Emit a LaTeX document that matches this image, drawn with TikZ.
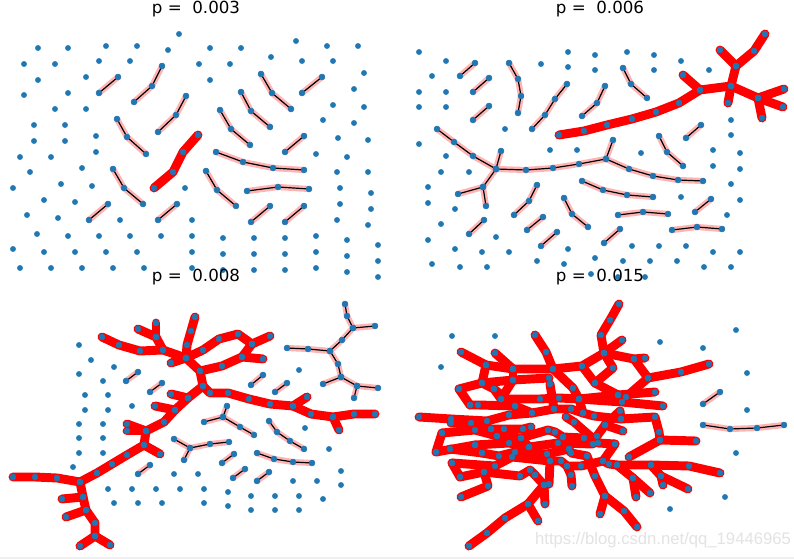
\documentclass[tikz,border=0pt]{standalone}
\usepackage{fontspec}
\setmainfont{DejaVu Sans}
\newfontfamily\wmfont{Liberation Sans}
\definecolor{mplblue}{HTML}{1F77B4}
\definecolor{pinkc}{RGB}{255,180,180}
\tikzset{
  redline/.style={draw=red, line width=6.7pt, line cap=round, line join=round},
  pinkline/.style={draw=pinkc, line width=4.6pt, line cap=round, line join=round},
  blkline/.style={draw=black, line width=0.9pt, line cap=round, line join=round},
  dotmark/.style={color=mplblue, only marks, mark=*, mark size=2.2pt},
  ttl/.style={font=\fontsize{12.5}{15}\selectfont, text=black, inner sep=0pt}
}
% ---------- red (spanning cluster) paths ----------
\def\redlist{%
{(154,188) (173,172) (183,152) (198,135)},%
{(559,135) (584,131) (607,125) (632,119) (656,112) (679,103) (700,90) (731,86) (758,98) (784,89)},%
{(700,90) (683,75)},{(731,86) (736,66) (720,50)},{(736,66) (754,51) (765,34)},%
{(731,86) (728,103)},{(758,98) (783,107)},{(758,98) (762,118)},%
{(102,337) (119,345) (140,351) (163,350) (186,358)},%
{(163,350) (156,337) (138,329)},{(156,337) (156,323)},%
{(186,358) (187,345) (191,331) (195,317)},%
{(171,363) (186,358) (200,371) (203,386) (210,393) (228,393) (249,399) (270,404) (293,406) (307,397)},%
{(186,358) (203,350) (219,339) (238,334) (252,344) (270,336)},%
{(252,344) (242,357) (263,359)},{(200,371) (222,366) (242,357)},%
{(293,406) (311,414) (333,417) (354,414) (375,414)},{(333,417) (339,430)},%
{(203,386) (188,398) (171,394)},{(188,398) (175,410) (155,406)},%
{(175,410) (164,422) (146,431) (144,445) (127,455) (112,464) (97,473) (80,482) (57,478) (35,477) (13,477)},%
{(146,431) (127,424)},{(146,431) (127,431)},{(144,445) (160,454)},%
{(80,482) (83,497) (86,510) (95,523) (95,536)},{(83,497) (62,499)},{(86,510) (66,517)},%
{(95,536) (80,546)},{(95,536) (110,545)},%
{(619,304) (610,320) (601,335) (604,353) (622,340)},%
{(604,353) (634,359) (645,358)},{(634,359) (648,378) (681,372) (709,364)},%
{(604,353) (582,366) (553,369) (513,369) (486,365) (461,352)},{(495,353) (513,369)},%
{(535,335) (546,352) (553,369) (573,388) (579,399) (583,413)},%
{(582,366) (595,383) (618,395)},{(604,353) (613,368) (595,383)},%
{(459,389) (482,383) (513,380) (549,378)},{(513,369) (513,380)},%
{(482,383) (494,389) (501,399) (540,399) (559,398) (579,399) (618,395) (655,392)},%
{(579,399) (622,402) (663,406)},{(618,395) (626,397) (648,378)},%
{(470,405) (478,405) (515,406) (532,413) (554,409)},{(459,389) (470,405)},%
{(419,417) (451,419) (487,421) (509,415) (532,413)},%
{(451,423) (471,423) (491,429) (504,429) (523,429) (531,427)},%
{(442,433) (475,430) (497,436) (521,438) (548,430) (555,432) (563,437) (584,438)},%
{(554,409) (571,409) (583,413) (594,416) (621,419) (655,417) (659,432) (660,440) (696,441)},%
{(566,417) (574,422) (598,443) (615,444)},{(605,425) (623,431)},%
{(597,436) (605,425) (620,411) (621,419)},%
{(436,452) (475,445) (509,443) (529,447) (558,443) (593,444)},%
{(450,449) (482,453) (499,456) (515,452) (547,454) (569,449) (571,453) (587,456)},%
{(452,463) (495,466) (512,457) (550,461) (561,461) (567,466) (581,466) (603,461) (609,464) (617,465) (651,465) (689,466) (720,473)},%
{(460,477) (484,472) (520,476) (530,470) (535,475)},{(461,497) (488,486) (484,472)},%
{(469,546) (487,533) (505,518) (528,504) (544,485) (549,484) (550,461)},%
{(528,504) (538,521)},{(545,504) (544,485)},{(572,486) (571,475) (567,466)},%
{(600,514) (605,496) (595,476) (587,456)},{(605,496) (624,511) (637,527)},%
{(636,497) (633,478) (617,465)},{(650,493) (633,478)},{(688,489) (661,476) (651,465)},%
{(663,485) (661,476)},{(629,457) (660,440)},%
{(486,365) (482,383)},{(513,380) (501,399)},{(550,384) (554,409)},{(494,389) (515,406)},%
{(436,452) (442,433)},{(475,445) (482,453)},{(460,477) (452,463)},{(535,475) (544,485)},%
{(521,438) (529,447)},{(491,429) (497,436)},{(563,437) (569,449)},{(603,461) (615,444)}%
}
% ---------- pink (finite cluster) paths ----------
\def\pinklist{%
{(99,93) (118,77)},{(134,102) (152,86) (162,66)},{(158,132) (176,115) (186,96)},%
{(117,119) (127,137) (146,154)},{(113,169) (124,188) (143,204)},{(89,220) (108,204)},%
{(158,220) (177,204)},{(261,74) (272,93) (291,109)},{(241,92) (251,111) (270,127)},%
{(220,110) (231,129) (250,145)},{(302,93) (322,77)},{(285,152) (304,136)},%
{(216,152) (243,162) (273,168) (304,170)},{(206,171) (217,190) (236,206)},%
{(247,191) (278,187) (309,189)},{(251,222) (270,206)},{(285,222) (304,206)},%
{(460,76) (475,63)},{(473,92) (489,78)},{(473,120) (489,106)},%
{(509,63) (518,79) (521,96) (518,113)},{(532,129) (545,115) (555,99) (567,84)},%
{(582,116) (597,103) (605,86)},{(623,68) (631,84) (647,98)},{(686,138) (701,125)},%
{(437,129) (454,142) (473,156) (496,169) (526,170) (553,168) (579,164) (606,159) (629,169) (653,176) (678,180) (703,181)},%
{(496,169) (501,151)},{(606,159) (613,140)},{(496,169) (483,187) (458,194)},{(483,187) (486,206)},%
{(582,181) (603,190) (627,195) (653,197)},{(514,215) (529,201) (537,185)},{(469,234) (484,220)},%
{(527,230) (543,217)},{(541,246) (557,232)},{(564,198) (572,214) (588,227)},{(604,243) (620,229)},%
{(618,215) (643,212) (668,214)},{(672,230) (697,227) (722,229)},{(695,212) (711,199)},%
{(659,136) (667,152) (683,166)},%
{(126,381) (138,372)},{(150,392) (162,383)},{(251,385) (263,375)},{(275,392) (287,383)},%
{(287,348) (308,349) (330,351) (342,340) (353,328) (347,316) (345,304)},{(353,328) (375,326)},%
{(330,351) (338,364) (341,377) (323,384)},{(341,377) (357,386) (378,388)},{(357,386) (354,398)},%
{(227,406) (223,417) (204,422)},{(223,417) (240,427) (254,435)},%
{(174,439) (190,448) (210,444) (229,442)},{(190,448) (184,460)},{(222,463) (234,454)},%
{(233,478) (245,469)},{(257,481) (269,472)},{(138,474) (150,465)},%
{(269,421) (277,432) (290,441) (304,449)},{(257,453) (274,459) (293,462) (312,463)},%
{(703,404) (720,392)},{(703,425) (730,429) (757,428) (784,425)}%
}
% ---------- isolated nodes ----------
\def\dotlist{%
38/48,68/48,106/46,137/46,179/34,168/50,24/64,55/64,99/61,130/61,38/80,86/77,24/95,68/93,55/109,86/109,%
34/125,65/125,96/136,34/141,65/141,210/48,241/48,296/41,327/46,358/46,199/64,230/64,271/57,302/61,333/61,%
210/80,364/73,354/89,333/105,364/107,323/120,354/123,338/138,368/140,%
20/157,51/157,96/152,30/172,82/168,13/188,61/184,92/186,44/200,75/202,27/215,58/218,120/220,192/220,185/188,%
37/234,68/236,99/236,130/236,161/236,192/236,13/249,44/252,75/252,106/252,137/252,192/252,%
20/268,51/268,82/268,113/268,144/268,192/268,%
316/154,347/157,337/172,368/172,340/188,371/193,340/204,371/209,337/220,368/225,%
223/238,254/238,285/238,316/236,347/240,378/245,223/254,254/254,285/254,316/252,347/256,378/261,%
223/270,254/270,285/270,316/268,347/272,378/277,%
419/52,446/61,432/76,419/92,446/92,419/107,446/107,541/64,568/52,568/67,595/55,595/70,627/52,654/55,654/70,%
681/61,709/70,505/129,731/120,731/135,%
419/144,446/156,441/172,469/172,428/187,428/203,455/209,441/224,428/240,455/249,482/252,509/252,496/237,%
550/150,577/150,641/153,713/150,740/153,713/166,740/169,731/184,740/200,727/215,681/197,%
568/249,537/261,564/264,595/258,632/246,659/246,686/246,713/252,740/252,623/261,650/261,677/261,%
704/267,731/267,432/264,460/267,487/267,591/274,618/277,645/277,%
79/345,91/360,79/374,114/367,103/381,85/395,108/395,85/410,108/410,132/406,299/370,%
79/424,103/424,79/438,103/438,79/453,103/453,73/467,108/489,132/489,156/489,180/489,204/489,%
114/503,138/503,162/503,204/503,228/492,228/506,251/496,275/496,299/496,323/499,251/510,275/510,299/510,%
293/481,317/481,341/471,341/485,329/449,305/428,174/474,198/474,%
452/336,495/336,441/367,660/342,703/348,736/330,747/373,747/410,736/453,725/497,670/509%
}
\begin{document}
\begin{tikzpicture}[x=0.75pt,y=-0.75pt]
\useasboundingbox (0,0) rectangle (794,559);
\fill[white] (0,0) rectangle (794,559);
\fill[gray!12] (0,557) rectangle (794,559);
% red edges
\foreach \c in \redlist {\edef\tmp{\noexpand\draw[redline] plot coordinates {\c};}\tmp}
% pink edges with black core
\foreach \c in \pinklist {\edef\tmp{\noexpand\draw[pinkline] plot coordinates {\c};}\tmp}
\foreach \c in \pinklist {\edef\tmp{\noexpand\draw[blkline] plot coordinates {\c};}\tmp}
% nodes
\foreach \c in \redlist {\edef\tmp{\noexpand\path[dotmark] plot coordinates {\c};}\tmp}
\foreach \c in \pinklist {\edef\tmp{\noexpand\path[dotmark] plot coordinates {\c};}\tmp}
\foreach \x/\y in \dotlist {\fill[mplblue] (\x,\y) circle[radius=2.2pt];}
% titles
\node[ttl] (t1) at (196,9) {p =\ \ 0.003};
\node[ttl] (t2) at (600,9) {p =\ \ 0.006};
\node[ttl] (t3) at (196,277) {p =\ \ 0.008};
\node[ttl] (t4) at (600,277) {p =\ \ 0.015};
% watermark
\node[font=\wmfont\fontsize{12.5}{14}\selectfont, text=gray!22, inner sep=0pt] (wm) at (663,540) {https://blog.csdn.net/qq\_19446965};
\end{tikzpicture}
\end{document}
